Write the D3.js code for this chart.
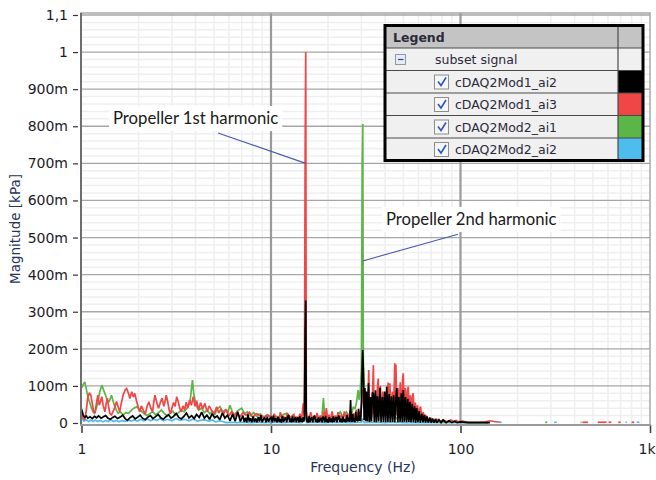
<!DOCTYPE html>
<html>
<head>
<meta charset="utf-8">
<script src="https://cdn.jsdelivr.net/npm/d3@7"></script>
<style>
body { margin: 0; background: #fff; }
svg { display: block; }
</style>
</head>
<body>
<div id="chart"></div>
<script>
// DATA  (frequency in Hz, magnitude in milli-kPa)
var seriesNames = ["cDAQ2Mod1_ai2", "cDAQ2Mod1_ai3", "cDAQ2Mod2_ai1", "cDAQ2Mod2_ai2"];

var xTickValues = [1, 10, 100, 1000];
var xTickLabels = ["1", "10", "100", "1k"];
var yTickValues = [0, 0.1, 0.2, 0.3, 0.4, 0.5, 0.6, 0.7, 0.8, 0.9, 1, 1.1];
var yTickLabels = ["0", "100m", "200m", "300m", "400m", "500m", "600m", "700m", "800m", "900m", "1", "1,1"];

var blackData = [
[1.00,38],[1.02,22],[1.04,15],[1.06,19],[1.08,13],[1.11,17],[1.14,12],[1.17,18],[1.20,14],[1.23,19],[1.27,13],[1.30,16],
[1.34,20],[1.38,13],[1.42,10],[1.46,15],[1.50,18],[1.55,12],[1.60,16],[1.65,21],[1.70,12],[1.75,7],[1.80,14],[1.86,19],
[1.92,11],[1.98,16],[2.04,21],[2.10,13],[2.17,9],[2.24,16],[2.31,20],[2.38,12],[2.46,17],[2.54,23],[2.62,14],[2.70,10],
[2.79,17],[2.88,22],[2.97,13],[3.06,18],[3.16,26],[3.26,15],[3.36,11],[3.47,18],[3.58,27],[3.69,14],[3.81,20],[3.93,12],
[4.05,23],[4.18,15],[4.31,29],[4.45,13],[4.59,21],[4.74,10],[4.89,25],[5.04,14],[5.20,19],[5.37,9],[5.54,27],[5.71,13],
[5.89,21],[6.08,6],[6.27,24],[6.47,5],[6.68,30],[6.89,4],[7.11,20],[7.22,3],[7.33,14],[7.45,2],[7.56,23],[7.68,4],
[7.80,13],[7.92,2],[8.05,18],[8.17,3],[8.30,12],[8.43,2],[8.57,16],[8.70,4],[8.84,21],[8.98,2],[9.12,10],[9.26,15],
[9.41,2],[9.56,17],[9.71,3],[9.86,12],[10.0,15],[10.15,2],[10.3,20],[10.45,4],[10.6,13],[10.75,2],[10.9,17],[11.05,3],
[11.2,11],[11.35,1],[11.5,19],[11.65,3],[11.8,10],[11.95,15],[12.1,2],[12.25,16],[12.4,22],[12.55,3],[12.7,12],[12.85,2],
[13.0,18],[13.15,3],[13.3,10],[13.45,16],[13.6,2],[13.75,11],[13.9,15],[14.05,2],[14.2,18],[14.35,3],[14.5,12],[14.65,2],
[14.8,16],[14.9,4],[15.0,12],[15.15,253],[15.25,330],[15.35,20],[15.5,2],[15.6,12],[15.75,1],[15.9,18],[16.05,3],[16.2,10],
[16.4,15],[16.6,2],[16.8,16],[17.0,20],[17.2,3],[17.4,11],[17.6,1],[17.8,15],[18.0,3],[18.2,9],[18.4,14],[18.6,2],
[18.8,17],[19.0,12],[19.2,2],[19.4,19],[19.6,3],[19.8,10],[20.05,1],[20.3,16],[20.55,3],[20.8,12],[21.05,2],[21.3,18],
[21.55,3],[21.8,10],[22.05,16],[22.3,2],[22.55,15],[22.8,20],[23.1,3],[23.4,12],[23.7,2],[24.0,17],[24.3,3],[24.6,11],
[24.9,2],[25.2,22],[25.5,4],[25.8,14],[26.05,3],[26.3,62],[26.5,10],[26.75,3],[27.0,24],[27.25,4],[27.5,13],[27.75,2],
[28.0,30],[28.25,5],[28.5,18],[28.75,4],[29.0,38],[29.25,6],[29.5,20],[29.75,5],[30.0,55],[30.3,160],[30.5,197],[30.8,110],
[31.0,8],[31.3,94],[31.6,5],[31.9,85],[32.3,4],[32.7,107],[33.1,3],[33.5,70],[33.9,4],[34.3,82],[34.7,80],[35.1,3],
[35.6,88],[36.0,2],[36.5,72],[37.0,4],[37.6,95],[38.1,2],[38.7,70],[39.2,3],[39.8,85],[40.3,2],[40.8,98],[41.4,3],
[42.0,78],[42.6,2],[43.2,72],[43.8,3],[44.4,75],[45.0,2],[45.6,65],[46.1,94],[46.7,2],[47.3,70],[48.0,3],[48.7,80],
[49.3,2],[49.9,89],[50.6,3],[51.3,70],[52.0,2],[52.7,65],[53.4,3],[54.1,57],[54.8,2],[55.6,52],[56.4,2],[57.2,45],
[58.0,1],[58.7,40],[59.6,2],[60.5,32],[61.4,1],[62.4,25],[63.4,2],[64.4,22],[65.4,1],[66.5,18],[67.6,1],[68.8,15],
[70.0,1],[71.2,12],[72.5,1],[73.8,11],[75.0,1],[77,9],[79,1],[81,8],[84,1],[87,6],[90,1],[93,5],[96,1],[100,3],
[110,1],[125,1],[143,1]
];

var redData = [
[1.00,26],[1.02,15],[1.04,8],[1.06,35],[1.08,70],[1.10,80],[1.12,76],[1.14,52],[1.16,30],[1.18,27],[1.20,55],[1.22,75],
[1.24,48],[1.26,58],[1.28,71],[1.30,48],[1.33,30],[1.35,52],[1.37,67],[1.39,45],[1.41,26],[1.44,22],[1.47,32],[1.50,42],
[1.53,58],[1.56,44],[1.59,30],[1.62,52],[1.66,76],[1.70,89],[1.73,93],[1.77,80],[1.80,66],[1.84,84],[1.88,70],[1.91,80],
[1.95,60],[1.99,44],[2.03,30],[2.07,46],[2.12,34],[2.17,24],[2.22,46],[2.27,57],[2.32,40],[2.37,30],[2.41,58],[2.44,75],
[2.50,54],[2.55,40],[2.61,56],[2.66,67],[2.72,45],[2.77,62],[2.80,75],[2.85,58],[2.90,35],[2.95,25],[3.00,40],[3.06,55],
[3.12,45],[3.18,71],[3.24,57],[3.30,40],[3.36,30],[3.43,46],[3.50,35],[3.57,56],[3.64,40],[3.72,62],[3.80,48],[3.89,71],
[3.97,45],[4.05,60],[4.15,35],[4.25,55],[4.36,38],[4.48,53],[4.60,30],[4.72,46],[4.86,34],[5.00,24],[5.17,44],[5.30,27],
[5.45,38],[5.60,22],[5.72,33],[5.84,35],[6.00,19],[6.20,31],[6.40,17],[6.60,29],[6.85,16],[7.10,27],[7.40,21],[7.70,29],
[8.00,15],[8.35,25],[8.75,22],[9.10,14],[9.50,21],[10.0,18],[10.2,8],[10.4,25],[10.6,12],[10.8,14],[11.0,6],[11.2,29],
[11.45,10],[11.7,16],[11.95,8],[12.2,27],[12.45,9],[12.7,14],[12.95,20],[13.2,23],[13.45,8],[13.7,17],[13.95,10],[14.2,25],
[14.5,9],[14.8,53],[15.0,20],[15.15,752],[15.25,1000],[15.35,38],[15.5,10],[15.6,20],[15.9,12],[16.2,29],[16.5,10],[16.8,18],
[17.15,9],[17.5,27],[17.85,10],[18.2,20],[18.6,8],[19.0,31],[19.3,12],[19.6,40],[19.9,10],[20.2,22],[20.6,9],[21.0,31],
[21.4,10],[21.8,20],[22.2,8],[22.6,29],[23.05,10],[23.5,22],[23.95,9],[24.4,31],[24.85,11],[25.3,24],[25.75,10],[26.2,34],
[26.7,12],[27.2,26],[27.7,12],[28.2,36],[28.7,14],[29.2,30],[29.6,15],[30.0,45],[30.3,60],[30.6,90],[31.0,50],[31.5,15],
[32.0,80],[32.4,20],[32.8,143],[33.2,18],[33.6,70],[34.0,15],[34.4,95],[34.7,156],[35.0,22],[35.5,75],[36.0,18],[36.4,90],
[36.8,120],[37.3,20],[37.8,100],[38.3,15],[38.9,85],[39.5,20],[40.1,75],[40.8,18],[41.5,109],[42.0,25],[42.4,107],[43.0,15],
[43.7,85],[44.3,20],[45.0,161],[45.3,30],[45.6,158],[46.2,20],[46.8,95],[47.4,15],[48.1,110],[48.8,20],[49.5,120],[49.9,134],
[50.5,18],[51.2,95],[51.9,15],[52.5,85],[53.0,98],[53.7,15],[54.3,75],[55.0,12],[55.6,70],[56.3,80],[57.0,12],[57.8,55],
[58.6,10],[59.3,48],[60.2,10],[61.0,40],[61.6,44],[62.5,8],[63.6,30],[64.6,6],[65.5,20],[66.5,17],[68,5],[70,12],
[72,4],[75,10],[78,4],[81,8],[85,3],[89,8],[92,4],[95,7],[98,3],[101,6],[110,2],[125,2],
[135,3],[143,6],[150,4],[162,2]
];

var greenData = [
[1.00,94],[1.02,104],[1.04,111],[1.06,92],[1.08,71],[1.11,52],[1.13,40],[1.15,30],[1.17,26],[1.20,42],[1.22,57],[1.25,85],
[1.28,102],[1.31,88],[1.34,75],[1.37,60],[1.40,58],[1.44,75],[1.47,58],[1.50,44],[1.53,34],[1.56,26],[1.60,30],[1.66,22],
[1.71,28],[1.77,26],[1.83,34],[1.89,40],[1.95,44],[2.01,38],[2.08,31],[2.15,24],[2.22,20],[2.30,26],[2.38,30],[2.46,22],
[2.55,28],[2.64,35],[2.73,26],[2.83,20],[2.93,26],[3.03,32],[3.14,22],[3.25,28],[3.36,35],[3.48,30],[3.60,40],[3.73,53],
[3.80,90],[3.85,116],[3.91,80],[3.97,62],[4.05,45],[4.15,35],[4.30,40],[4.45,28],[4.60,35],[4.75,25],[4.90,32],[5.05,22],
[5.20,38],[5.38,44],[5.55,30],[5.75,36],[5.90,26],[6.07,48],[6.25,30],[6.45,22],[6.70,34],[7.00,40],[7.25,25],[7.50,30],
[7.80,20],[8.10,28],[8.40,18],[8.80,24],[9.20,16],[9.60,22],[10.0,15],[10.5,20],[11.0,14],[11.5,22],[12.1,26],[12.6,16],
[13.2,18],[13.8,12],[14.4,16],[15.0,10],[15.3,12],[15.8,14],[16.5,12],[17.2,16],[18.0,14],[18.6,20],[18.9,67],[19.2,18],
[19.8,14],[20.5,17],[21.5,13],[22.3,18],[23.2,30],[24.0,16],[25.0,30],[25.8,18],[26.6,22],[27.2,44],[27.8,38],[28.3,57],
[28.8,89],[29.2,62],[29.6,89],[30.0,150],[30.3,707],[30.5,806],[30.7,170],[31.0,110],[31.4,60],[31.8,80],[32.2,45],[32.7,60],
[33.2,35],[33.8,50],[34.4,28],[35.0,40],[36.0,22],[37.0,35],[38.0,20],[40.0,28],[42.0,15],[44.0,22],[46.0,12],[48.0,18],
[50.0,10],[55.0,12],[60.0,8],[65.0,6],[70.0,4],[80.0,3],[90.0,2],[100,2],[110,1],[140,1]
];

var blueData = [
[1.00,25],[1.02,8],[1.03,5],[1.06,8],[1.09,4],[1.12,8],[1.15,4],[1.18,8],[1.22,4],[1.26,7],[1.30,3],[1.34,7],
[1.38,4],[1.43,8],[1.48,4],[1.53,7],[1.58,3],[1.64,7],[1.70,4],[1.76,8],[1.83,5],[1.90,9],[1.97,5],[2.05,10],
[2.13,6],[2.22,11],[2.31,6],[2.40,10],[2.50,7],[2.60,12],[2.70,6],[2.85,10],[3.00,6],[3.15,12],[3.30,7],[3.50,10],
[3.70,6],[3.90,11],[4.10,5],[4.40,9],[4.70,5],[4.90,8],[5.10,3],[5.40,6],[5.80,1],[6.20,2],[6.60,1],[7.20,2],
[7.80,1],[8.50,2],[9.30,1],[10.2,2],[11.5,1],[13.0,2],[14.5,1],[15.2,16],[15.4,1],[17.0,2],[19.0,1],[22.0,2],
[26.0,1],[30.0,2],[30.5,12],[31.0,1],[35.0,2],[40.0,1],[45.0,2],[50.0,1],[60.0,1],[80.0,1],[100,1],[140,1]
];

// short bits left above the floor between 150 Hz and 1 kHz: [from Hz, to Hz]
var redSpecks = [[440,470],[530,590],[605,625],[680,700],[800,825]];
var blueSpecks = [[160,165],[312,322],[742,755],[850,880]];
var greenSpecks = [[280,287],[430,436]];

// STYLE
var COLORS = ["#000000", "#f04646", "#5cb547", "#4dbdef"];
var TICK_FONT = "DejaVu Sans, Verdana, sans-serif";

var WIDTH = 656;
var HEIGHT = 480;

var x = d3.scaleLog()
    .domain([1, 1000])
    .range([81.5, 650]);

var y = d3.scaleLinear()
    .domain([0, 1.1])
    .range([423, 15]);

var svg = d3.select("#chart").append("svg")
    .attr("width", WIDTH)
    .attr("height", HEIGHT);

svg.append("rect")
    .attr("width", WIDTH).attr("height", HEIGHT)
    .attr("fill", "#fff");

// grid
var minorY = d3.range(0.02, 1.1, 0.02).filter(function(v) {
    return Math.abs(v * 10 - Math.round(v * 10)) > 0.01;
});
var minorX = [];
[1, 10, 100].forEach(function(dec) {
    for (var k = 2; k <= 9; k++) minorX.push(k * dec);
});

var grid = svg.append("g");
grid.selectAll(".minor-x").data(minorX).enter().append("line")
    .attr("x1", d => x(d)).attr("x2", d => x(d))
    .attr("y1", 13).attr("y2", 425)
    .attr("stroke", "#efefef").attr("stroke-width", 1.5);
grid.selectAll(".minor-y").data(minorY).enter().append("line")
    .attr("x1", 81).attr("x2", 650)
    .attr("y1", d => y(d)).attr("y2", d => y(d))
    .attr("stroke", "#efefef").attr("stroke-width", 1.5);
grid.selectAll(".major-y").data(yTickValues.slice(1)).enter().append("line")
    .attr("x1", 81).attr("x2", 650)
    .attr("y1", d => y(d)).attr("y2", d => y(d))
    .attr("stroke", "#a6a6a6").attr("stroke-width", 1.3);
grid.selectAll(".major-x").data(xTickValues.slice(1, 3)).enter().append("line")
    .attr("x1", d => x(d)).attr("x2", d => x(d))
    .attr("y1", 13).attr("y2", 425)
    .attr("stroke", "#9a9a9a").attr("stroke-width", 2.2);

// frame
svg.append("rect")
    .attr("x", 81).attr("y", 13)
    .attr("width", 569).attr("height", 412)
    .attr("fill", "none")
    .attr("stroke", "#a8a8a8").attr("stroke-width", 1.5);

// plot lines
svg.append("clipPath").attr("id", "plot-clip")
    .append("rect")
    .attr("x", 82).attr("y", 13)
    .attr("width", 567).attr("height", 411);

var line = d3.line()
    .x(d => x(d[0]))
    .y(d => y(d[1] / 1000));

var plot = svg.append("g").attr("clip-path", "url(#plot-clip)");

var drawOrder = [
    {data: blueData, color: COLORS[3]},
    {data: greenData, color: COLORS[2]},
    {data: redData, color: COLORS[1]},
    {data: blackData, color: COLORS[0]}
];

plot.selectAll(".spectrum")
    .data(drawOrder)
    .enter()
    .append("path")
    .attr("d", d => line(d.data))
    .attr("fill", "none")
    .attr("stroke", d => d.color)
    .attr("stroke-width", 1.7)
    .attr("stroke-linejoin", "miter")
    .attr("stroke-miterlimit", 2);

var specks = [
    {bits: redSpecks, color: COLORS[1]},
    {bits: blueSpecks, color: COLORS[3]},
    {bits: greenSpecks, color: COLORS[2]}
];
specks.forEach(function(s) {
    plot.selectAll(null).data(s.bits).enter().append("line")
        .attr("x1", d => x(d[0])).attr("x2", d => x(d[1]))
        .attr("y1", y(0.002)).attr("y2", y(0.002))
        .attr("stroke", s.color).attr("stroke-width", 1.7);
});

// annotations
var annotations = [
    {text: "Propeller 1st harmonic", at: [1.466, 0.806], from: [5.25, 0.782], to: [15.25, 0.70]},
    {text: "Propeller 2nd harmonic", at: [40.4, 0.534], from: [97, 0.509], to: [30.5, 0.437]}
];

annotations.forEach(function(a) {
    var g = svg.append("g");
    var box = g.append("rect").attr("fill", "#fff");
    var t = g.append("text")
        .attr("x", x(a.at[0])).attr("y", y(a.at[1]))
        .attr("font-family", "Lato, 'Open Sans', sans-serif")
        .attr("font-size", 16.7)
        .attr("fill", "#1a1a1a")
        .text(a.text);
    var bb = t.node().getBBox();
    box.attr("x", bb.x - 4).attr("y", bb.y - 2)
        .attr("width", bb.width + 8).attr("height", bb.height + 5);
    svg.append("line")
        .attr("x1", x(a.from[0])).attr("y1", y(a.from[1]))
        .attr("x2", x(a.to[0])).attr("y2", y(a.to[1]))
        .attr("stroke", "#4a58b4").attr("stroke-width", 1.1);
});

// axes
var yAxis = svg.append("g")
    .attr("transform", "translate(78,0)")
    .call(d3.axisLeft(y)
        .tickValues(yTickValues)
        .tickFormat((d, i) => yTickLabels[i])
        .tickSize(5)
        .tickPadding(5));
yAxis.select(".domain").remove();
yAxis.selectAll("line").attr("stroke", "#333").attr("stroke-width", 1.2);
yAxis.selectAll("text")
    .attr("font-family", TICK_FONT).attr("font-size", 14)
    .attr("fill", "#1c1c28");

var xAxis = svg.append("g")
    .attr("transform", "translate(0,425)")
    .call(d3.axisBottom(x)
        .tickValues(xTickValues)
        .tickFormat((d, i) => xTickLabels[i])
        .tickSize(8)
        .tickPadding(11));
xAxis.select(".domain").remove();
xAxis.selectAll("line").attr("stroke", "#444").attr("stroke-width", 1.6);
xAxis.selectAll("text")
    .attr("font-family", TICK_FONT).attr("font-size", 14)
    .attr("fill", "#1c1c28");
// the last label sits against the window edge
xAxis.selectAll(".tick").filter(d => d === 1000).select("text")
    .attr("text-anchor", "end").attr("x", 655 - x(1000));

// left and bottom axis lines
svg.append("line")
    .attr("x1", 81).attr("x2", 81).attr("y1", 13).attr("y2", 426)
    .attr("stroke", "#6e6e6e").attr("stroke-width", 2);
svg.append("line")
    .attr("x1", 80).attr("x2", 651).attr("y1", 425).attr("y2", 425)
    .attr("stroke", "#9a9a9a").attr("stroke-width", 2);

svg.append("text")
    .attr("x", 363).attr("y", 472)
    .attr("text-anchor", "middle")
    .attr("font-family", TICK_FONT).attr("font-size", 14)
    .attr("fill", "#26345a")
    .text("Frequency (Hz)");

svg.append("text")
    .attr("transform", "translate(20,229) rotate(-90)")
    .attr("text-anchor", "middle")
    .attr("font-family", TICK_FONT).attr("font-size", 13.5)
    .attr("fill", "#26345a")
    .text("Magnitude [kPa]");

// legend
var LX = 385, LY = 25.5, LW = 258, ROW = 22.5, CX = 618;
var legend = svg.append("g");

legend.append("rect")
    .attr("x", LX).attr("y", LY).attr("width", LW).attr("height", ROW)
    .attr("fill", "#c4c4c4");
legend.append("rect")
    .attr("x", LX).attr("y", LY + ROW).attr("width", LW).attr("height", ROW * 5)
    .attr("fill", "#f0f0f0");

legend.append("text")
    .attr("x", LX + 8).attr("y", LY + 16)
    .attr("font-family", TICK_FONT).attr("font-size", 12.5)
    .attr("font-weight", "bold").attr("fill", "#2a2a3a")
    .text("Legend");

// collapse icon + group row
legend.append("rect")
    .attr("x", LX + 10.5).attr("y", LY + ROW + 6.5).attr("width", 10).attr("height", 10)
    .attr("fill", "#e6ecf6").attr("stroke", "#8c98ac");
legend.append("line")
    .attr("x1", LX + 13).attr("x2", LX + 18.5)
    .attr("y1", LY + ROW + 11.5).attr("y2", LY + ROW + 11.5)
    .attr("stroke", "#3a4a70").attr("stroke-width", 1.2);
legend.append("text")
    .attr("x", LX + 50).attr("y", LY + ROW + 16)
    .attr("font-family", TICK_FONT).attr("font-size", 12.5)
    .attr("fill", "#2a2a3a")
    .text("subset signal");

var rows = legend.selectAll(".row")
    .data(seriesNames)
    .enter()
    .append("g")
    .attr("transform", (d, i) => "translate(0," + (LY + ROW * (i + 2)) + ")");

rows.append("rect")
    .attr("x", CX).attr("y", 0).attr("width", LX + LW - CX).attr("height", ROW)
    .attr("fill", (d, i) => COLORS[i]);
rows.append("rect")
    .attr("x", LX + 49.5).attr("y", 4.5).attr("width", 14).attr("height", 14)
    .attr("fill", "#f6f6f6").attr("stroke", "#8e8e8e");
rows.append("path")
    .attr("d", "M" + (LX + 53) + ",11 l3,4 l5,-8")
    .attr("fill", "none").attr("stroke", "#2c56c8").attr("stroke-width", 1.6);
rows.append("text")
    .attr("x", LX + 70).attr("y", 16)
    .attr("font-family", TICK_FONT).attr("font-size", 12.5)
    .attr("fill", "#2a2a3a")
    .text(d => d);

// row separators and outline
legend.selectAll(".sep")
    .data(d3.range(1, 6))
    .enter().append("line")
    .attr("x1", LX).attr("x2", LX + LW)
    .attr("y1", d => LY + ROW * d).attr("y2", d => LY + ROW * d)
    .attr("stroke", "#4a4a4a").attr("stroke-width", 1.2);
legend.append("line")
    .attr("x1", CX).attr("x2", CX).attr("y1", LY).attr("y2", LY + ROW * 6)
    .attr("stroke", "#4a4a4a").attr("stroke-width", 1.2);
legend.append("rect")
    .attr("x", LX).attr("y", LY).attr("width", LW).attr("height", ROW * 6)
    .attr("fill", "none").attr("stroke", "#000").attr("stroke-width", 3);
</script>
</body>
</html>
